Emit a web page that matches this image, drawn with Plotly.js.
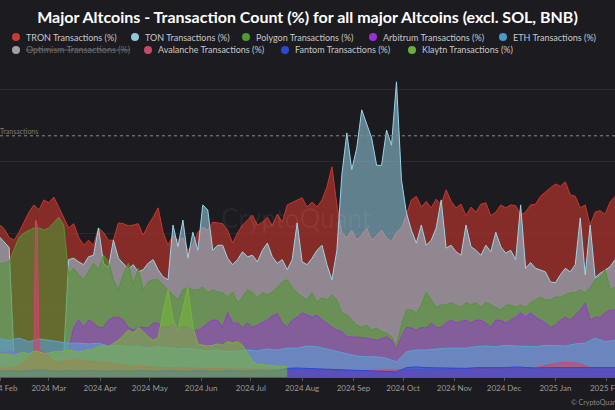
<!DOCTYPE html>
<html>
<head>
<meta charset="utf-8">
<script src="https://cdn.plot.ly/plotly-3.0.1.min.js"></script>
<style>
html,body{margin:0;padding:0;background:#1b1b20;}
#chart{width:615px;height:410px;}
</style>
</head>
<body>
<div id="chart"></div>
<script>
// ---- DATA ----
const seriesNames = ['TRON Transactions (%)','TON Transactions (%)','Polygon Transactions (%)','Arbitrum Transactions (%)','ETH Transactions (%)','Optimism Transactions (%)','Avalanche Transactions (%)','Fantom Transactions (%)','Klaytn Transactions (%)'];

// 3-day sampled series start 2024-01-31
const tron = [21.2,20.6,19.4,19.0,20.1,21.5,22.9,23.9,23.2,24.6, 24.2,25.0,23.5,22.1,20.7,21.3,19.4,18.3,19.0,18.3,
 20.7,20.1,19.0,19.0,21.4,21.3,21.0,21.1,21.3,19.7, 21.1,22.2,23.5,20.1,18.3,19.7,19.0,19.3,17.6,18.3,
 20.1,20.8,20.4,21.5,21.4,21.3,20.4,18.6,20.0,21.1, 21.8,22.5,21.1,21.5,22.2,21.0,22.6,21.5,23.9,24.2,
 24.6,24.9,23.6,24.3,23.6,24.6,26.4,29.2,23.9,20.1, 19.3,20.4,19.0,19.7,20.7,19.0,19.6,20.4,19.3,18.8,
 20.1,20.7,22.5,24.6,25.1,23.6,24.4,23.5,24.7,23.9, 26.0,24.4,23.5,24.0,22.4,23.6,22.9,24.0,24.2,22.4,
 22.9,23.9,23.5,23.9,23.8,22.5,22.9,23.9,24.0,25.1, 25.7,26.3,26.8,26.5,27.1,25.3,25.1,23.5,23.9,21.1,
 22.9,23.1,22.6,24.3,25.1];
const ton = [19.5,18.8,18.0,2.6,2.9,3.1,2.7,2.8,3.0,2.6, 2.9,3.2,2.8,3.0,16.3,16.5,16.0,15.6,16.7,16.9,
 20.7,15.8,15.2,19.0,16.5,15.7,15.0,15.6,14.6,14.9, 15.8,16.3,14.9,13.9,13.5,21.1,18.1,21.8,16.5,20.1,
 17.6,23.9,23.2,17.6,18.3,18.3,16.5,15.6,16.3,17.4, 16.7,16.9,16.0,17.6,18.6,16.7,15.8,16.3,14.9,16.3,
 21.4,16.0,15.6,16.5,17.6,18.3,15.6,13.5,17.6,28.1, 33.9,28.8,31.8,37.1,35.0,33.2,29.4,29.4,34.3,32.2,
 41.0,27.4,22.8,20.4,18.6,21.1,18.3,19.0,20.7,24.6, 17.9,18.3,17.4,16.9,21.1,18.1,17.6,16.9,18.3,17.4,
 20.1,18.1,17.2,17.6,16.3,23.9,15.1,15.9,15.1,14.9, 14.6,13.2,13.1,14.2,15.1,14.6,15.6,22.1,14.2,21.1,
 13.8,14.4,14.9,15.3,16.3];
const polygon = [15.8,15.8,16.0,17.6,19.4,20.0,20.4,20.7,20.7,20.4, 20.7,21.5,22.2,21.1,14.2,15.1,14.2,13.5,14.6,15.8,
 14.9,16.9,16.0,13.5,12.1,14.2,15.8,12.8,15.1,12.1, 13.2,13.5,13.5,12.8,12.1,11.4,10.7,12.1,12.4,12.1,
 12.1,12.5,11.7,12.1,11.8,11.7,11.1,11.8,10.3,11.1, 12.1,11.7,11.0,11.7,11.4,11.8,12.4,13.2,13.5,12.4,
 11.7,11.1,10.7,11.7,10.4,11.0,10.7,11.4,10.7,8.9, 8.6,7.9,7.2,6.9,7.2,6.5,6.8,6.3,6.1,5.6,
 4.2,7.2,9.3,9.3,8.9,10.0,11.8,10.7,9.7,10.0, 10.0,10.3,10.0,9.7,10.3,10.0,10.3,9.7,10.4,10.0,
 9.7,9.3,10.0,10.0,9.7,10.0,9.7,10.3,10.7,11.1, 10.7,10.7,11.1,11.1,11.4,11.7,11.7,12.1,11.7,12.4,
 13.5,13.8,14.9,12.1,12.5];
const arbitrum = [3.5,3.4,3.6,3.5,3.3,3.6,3.5,3.4,3.6,3.5, 3.4,3.5,3.6,3.5,3.8,6.9,7.9,6.9,7.9,7.5,
 6.9,6.9,7.9,8.3,8.3,7.9,6.9,6.5,6.9,6.9, 6.8,7.5,7.5,6.9,6.9,7.2,6.9,6.9,6.9,6.5,
 6.5,6.9,7.5,7.9,7.9,6.9,9.0,7.5,7.5,6.9, 7.5,6.9,7.2,7.5,7.9,8.5,8.8,7.5,6.9,7.9,
 8.3,8.9,8.6,8.3,8.6,7.9,7.5,6.9,6.5,6.3, 5.6,5.6,5.6,5.5,5.4,5.2,5.1,5.3,5.6,5.1,
 3.8,5.6,6.9,6.8,6.5,6.9,6.8,7.5,6.9,6.9, 7.5,7.9,7.5,7.7,7.9,7.5,7.9,7.9,7.5,6.9,
 7.9,7.9,7.5,7.9,8.3,8.9,8.3,8.9,8.3,7.9, 7.5,6.9,7.2,7.9,8.3,7.9,8.6,9.3,10.3,7.9,
 8.3,8.3,8.9,9.3,9.3];
const klaytn = [3.1,3.2,3.1,3.0,3.3,3.4,3.2,3.6,3.5,3.3, 3.3,3.5,3.5,3.6,3.75,3.6,3.5,3.6,3.75,3.9,
 4.2,4.4,4.2,4.6,5.1,5.8,6.5,6.1,6.9,6.3, 5.6,5.1,5.4,9.0,12.1,8.0,6.5,9.5,12.4,7.0,
 4.6,4.4,4.3,4.4,4.6,4.4,4.9,4.7,4.9,4.4, 3.2,2.2,1.8,1.7,1.6,1.6,1.5,1.5,1.4];

// 6-day sampled series start 2024-01-31
const eth = [5.3,5.1,5.4,4.9,5.3,5.1,5.0,4.7,4.7,4.6, 4.7,4.3,4.4,4.2,4.3,4.0,4.2,4.0,3.9,4.0,
 3.75,3.6,3.75,3.5,3.6,3.75,3.6,3.9,3.75,4.0, 4.0,4.3,4.2,3.9,3.6,3.2,2.9,2.8,2.8,2.6,
 2.1,3.5,3.75,3.75,3.9,4.0,4.0,4.0,4.2,4.3, 4.2,4.4,4.3,4.3,4.2,4.4,4.4,4.3,4.6,4.7,
 5.4,4.9,5.1];
const fantom = [0.8,0.9,0.8,0.9,1.0,0.9,0.8,0.9,0.8,0.9, 0.8,0.8,0.9,0.8,0.9,0.8,0.8,0.9,0.8,0.8,
 0.9,0.8,0.8,0.9,0.8,0.8,0.9,0.8,0.9,1.2, 1.25,1.2,1.1,1.0,1.0,0.9,0.9,0.8,0.8,0.7,
 0.7,1.3,1.4,1.3,1.25,1.3,1.25,1.2,1.3,1.3, 1.25,1.3,1.4,1.3,1.25,1.3,1.3,1.35,1.3,1.4,
 1.3,1.35,1.3];

// Avalanche, irregular dates
const avaxDates = ['2024-01-31','2024-02-10','2024-02-18','2024-02-21','2024-02-22','2024-02-23','2024-02-24','2024-02-28','2024-03-05','2024-03-15','2024-03-25','2024-04-05','2024-04-20','2024-05-10','2024-06-01','2024-07-01','2024-08-01','2024-09-01','2024-10-01','2024-11-01','2024-12-01','2024-12-20','2025-01-02','2025-01-08','2025-01-15','2025-01-22','2025-02-07'];
const avaxValues = [1.2,1.3,2.5,3.5,21.8,21.0,3.8,3.3,2.0,2.4,2.2,2.0,1.5,1.3,1.2,1.1,1.0,0.9,1.0,1.1,1.2,1.3,1.9,2.0,1.9,1.3,1.3];

const avgLineValue = 33.5;

function dateGrid(n, stepDays){
  const t0 = Date.UTC(2024,0,31);
  const out = [];
  for(let i=0;i<n;i++){ out.push(new Date(t0 + i*stepDays*86400000).toISOString().slice(0,10)); }
  return out;
}
const dates3 = dateGrid(tron.length, 3);
const dates6 = dateGrid(eth.length, 6);

// ---- STYLE ----
const lineColors = {
  tron:'rgb(200,55,45)', ton:'rgb(155,212,232)', polygon:'rgb(80,150,50)', arbitrum:'rgb(150,60,200)',
  eth:'rgb(90,160,215)', avax:'rgb(205,70,105)', fantom:'rgb(40,70,220)', klaytn:'rgb(120,180,60)'
};
function rgba(c,a){ return c.replace('rgb(','rgba(').replace(')', ','+a+')'); }
function area(x,y,key,alpha){
  return {type:'scatter', mode:'lines', x:x, y:y, fill:'tozeroy',
    line:{color:lineColors[key], width:1}, fillcolor:rgba(lineColors[key],alpha),
    hoverinfo:'skip', showlegend:false};
}
const traces = [
  area(dates3, tron, 'tron', 0.62),
  area(dates3, ton, 'ton', 0.55),
  area(dates3, polygon, 'polygon', 0.6),
  area(dates3, arbitrum, 'arbitrum', 0.6),
  area(dates6, eth, 'eth', 0.6),
  area(avaxDates, avaxValues, 'avax', 0.6),
  area(dates6, fantom, 'fantom', 0.6),
  area(dates3.slice(0, klaytn.length), klaytn, 'klaytn', 0.6)
];

// ---- manual legend ----
const legendColors = ['#c83a34','#8fc8dc','#4f9a35','#9a2fd6','#4d98c8','#a0a0a0','#c8486c','#2a48d4','#6cae3b'];
const legendCx = [16,135,246,373,503,16,148,285,412];
const legendRowY = [37,37,37,37,37,50,50,50,50];
const W = 615, PT = 62, PB = 377, PH = PB - PT;
const px2x = p => p / W;
const px2y = p => (PB - p) / PH;

const shapes = [{
  type:'line', xref:'paper', x0:0, x1:1, yref:'y', y0:avgLineValue, y1:avgLineValue,
  line:{color:'#8c8c8c', width:1, dash:'dot'}, layer:'above'
}];
const annotations = [];
seriesNames.forEach((n,i)=>{
  shapes.push({type:'circle', xref:'paper', yref:'paper', xsizemode:'pixel', ysizemode:'pixel',
    xanchor:px2x(legendCx[i]), yanchor:px2y(legendRowY[i]), x0:-4, x1:4, y0:-4, y1:4,
    fillcolor:legendColors[i], line:{width:0}});
  const isHidden = n.indexOf('Optimism') === 0;
  annotations.push({xref:'paper', yref:'paper', x:px2x(legendCx[i]+8), y:px2y(legendRowY[i]),
    xanchor:'left', yanchor:'middle', showarrow:false,
    text: isHidden ? '<s>'+n+'</s>' : n,
    font:{family:'Lato, sans-serif', size:9, color: isHidden ? '#6e6e6e' : '#c8c8c8'}});
});
annotations.push({xref:'paper', yref:'paper', x:px2x(-2), y:px2y(131), xanchor:'left', yanchor:'middle',
  showarrow:false, text:'Transactions', font:{family:'Lato, sans-serif', size:7, color:'#7a7a7a'}});
annotations.push({xref:'paper', yref:'paper', x:px2x(296), y:px2y(218), xanchor:'center', yanchor:'middle',
  showarrow:false, text:'CryptoQuant', font:{family:'Lato, sans-serif', size:26, color:'rgba(255,255,255,0.06)'}});
annotations.push({xref:'paper', yref:'paper', x:px2x(569), y:px2y(402), xanchor:'left', yanchor:'middle',
  showarrow:false, text:'© CryptoQuant. All rights reserved.', font:{family:'Lato, sans-serif', size:7, color:'#8a8a8a'}});

const layout = {
  width:615, height:410,
  margin:{l:0, r:0, t:PT, b:410-PB, pad:0},
  paper_bgcolor:'#1b1b20', plot_bgcolor:'#1b1b20',
  showlegend:false,
  title:{text:'<b>Major Altcoins - Transaction Count (%) for all major Altcoins (excl. SOL, BNB)</b>',
    x:0.5, xanchor:'center', y:1-17/410, yanchor:'middle',
    font:{family:'Lato, sans-serif', size:16, color:'#ffffff'}},
  xaxis:{type:'date', range:['2024-01-31 12:00','2025-02-06'], tick0:'2024-02-01', dtick:'M1',
    tickformat:'%Y %b', ticks:'outside', ticklen:3, tickcolor:'#555', showgrid:false,
    showline:true, linecolor:'#5a5a5a', linewidth:1, ticklabeloverflow:'allow',
    tickfont:{family:'Lato, sans-serif', size:8, color:'#9a9a9a'}, zeroline:false, fixedrange:true},
  yaxis:{range:[0,43.75], dtick:10, showticklabels:false, showgrid:true, gridcolor:'#29292f',
    zeroline:false, showline:false, fixedrange:true},
  shapes:shapes, annotations:annotations
};
Plotly.newPlot('chart', traces, layout, {staticPlot:true, displayModeBar:false});
</script>
</body>
</html>
